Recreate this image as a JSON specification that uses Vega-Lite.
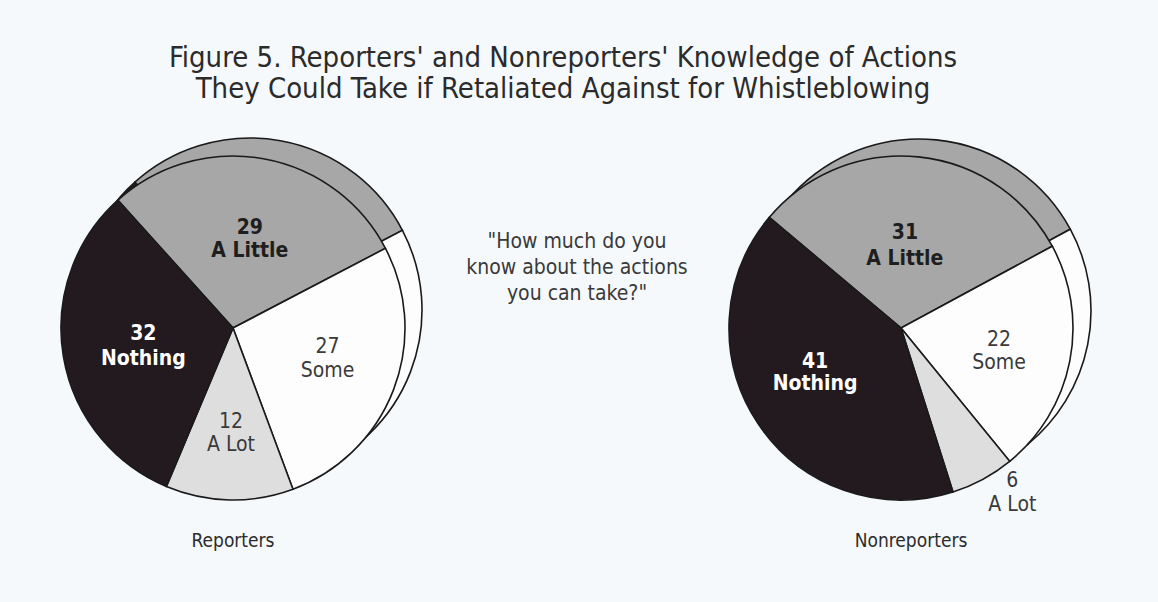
{
  "$schema": "https://vega.github.io/schema/vega-lite/v6.json",
  "background": "#f6f9fb",
  "padding": {"left": 0, "top": 44, "right": 44, "bottom": 51},
  "title": {
    "text": ["Figure 5.  Reporters' and Nonreporters' Knowledge of Actions", "They Could Take if Retaliated Against for Whistleblowing"],
    "font": "DejaVu Sans Condensed",
    "fontSize": 29,
    "fontWeight": "normal",
    "color": "#2b2b2b",
    "lineHeight": 31,
    "anchor": "middle",
    "dx": 6,
    "offset": 6
  },
  "datasets": {
    "rep": [
      {"category": "A Little", "value": 29, "o": 1, "label": "29\nA Little"},
      {"category": "Some", "value": 27, "o": 2, "label": "27\nSome"},
      {"category": "A Lot", "value": 12, "o": 3, "label": "12\nA Lot"},
      {"category": "Nothing", "value": 32, "o": 4, "label": "32\nNothing"}
    ],
    "non": [
      {"category": "A Little", "value": 31, "o": 1, "label": "31\nA Little"},
      {"category": "Some", "value": 22, "o": 2, "label": "22\nSome"},
      {"category": "A Lot", "value": 6, "o": 3, "label": "6\nA Lot"},
      {"category": "Nothing", "value": 41, "o": 4, "label": "41\nNothing"}
    ],
    "q": [
      {"q": "\"How much do you\nknow about the actions\nyou can take?\""}
    ]
  },
  "spacing": 0,
  "hconcat": [
    {
      "width": 466,
      "height": 406,
      "title": {"text": "Reporters", "orient": "bottom", "font": "DejaVu Sans Condensed", "fontSize": 19, "fontWeight": "normal", "color": "#2b2b2b", "offset": 1},
      "data": {"name": "rep"},
      "encoding": {
        "theta": {"field": "value", "type": "quantitative", "stack": true, "scale": {"range": [-0.733, 5.550]}},
        "order": {"field": "o", "type": "quantitative"}
      },
      "layer": [
        {
          "mark": {"type": "arc", "outerRadius": 172, "xOffset": 17, "yOffset": -18, "stroke": "#1a1a1a", "strokeWidth": 1.6},
          "encoding": {"fill": {"field": "category", "type": "nominal", "scale": {"domain": ["Nothing", "A Little", "Some", "A Lot"], "range": ["#231a1f", "#a7a7a7", "#fdfdfd", "#dedede"]}, "legend": null}}
        },
        {
          "mark": {"type": "arc", "outerRadius": 172, "stroke": "#1a1a1a", "strokeWidth": 1.6},
          "encoding": {"fill": {"field": "category", "type": "nominal", "legend": null}}
        },
        {
          "mark": {"type": "text", "radius": 95, "dx": 4, "dy": -10, "lineBreak": "\n", "font": "DejaVu Sans Condensed", "fontSize": 21, "fontWeight": "bold", "lineHeight": 25, "color": "#ffffff"},
          "encoding": {"text": {"condition": {"test": "datum.category === 'Nothing'", "field": "label"}, "value": ""}}
        },
        {
          "mark": {"type": "text", "radius": 95, "dy": -7, "lineBreak": "\n", "font": "DejaVu Sans Condensed", "fontSize": 21, "fontWeight": "bold", "lineHeight": 23, "color": "#1e1e1e"},
          "encoding": {"text": {"condition": {"test": "datum.category === 'A Little'", "field": "label"}, "value": ""}}
        },
        {
          "mark": {"type": "text", "radius": 97, "dx": 4, "dy": -16, "lineBreak": "\n", "font": "DejaVu Sans Condensed", "fontSize": 21, "fontWeight": "normal", "lineHeight": 24, "color": "#3a3a3a", "letterSpacing": 2},
          "encoding": {"text": {"condition": {"test": "datum.category === 'Some'", "field": "label"}, "value": ""}}
        },
        {
          "mark": {"type": "text", "radius": 97, "dy": -3, "lineBreak": "\n", "font": "DejaVu Sans Condensed", "fontSize": 21, "fontWeight": "normal", "lineHeight": 23, "color": "#3a3a3a", "letterSpacing": 2},
          "encoding": {"text": {"condition": {"test": "datum.category === 'A Lot'", "field": "label"}, "value": ""}}
        }
      ]
    },
    {
      "width": 222,
      "height": 234,
      "data": {"name": "q"},
      "mark": {"type": "text", "lineBreak": "\n", "font": "DejaVu Sans Condensed", "fontSize": 21, "lineHeight": 26, "color": "#3a3a3a", "letterSpacing": 2.2, "align": "center", "baseline": "middle"},
      "encoding": {"text": {"field": "q", "type": "nominal"}}
    },
    {
      "width": 426,
      "height": 406,
      "title": {"text": "Nonreporters", "orient": "bottom", "font": "DejaVu Sans Condensed", "fontSize": 19, "fontWeight": "normal", "color": "#2b2b2b", "offset": 1, "dx": 10},
      "data": {"name": "non"},
      "encoding": {
        "theta": {"field": "value", "type": "quantitative", "stack": true, "scale": {"range": [-0.873, 5.411]}},
        "order": {"field": "o", "type": "quantitative"}
      },
      "layer": [
        {
          "mark": {"type": "arc", "outerRadius": 172, "xOffset": 18, "yOffset": -17, "stroke": "#1a1a1a", "strokeWidth": 1.6},
          "encoding": {"fill": {"field": "category", "type": "nominal", "scale": {"domain": ["Nothing", "A Little", "Some", "A Lot"], "range": ["#231a1f", "#a7a7a7", "#fdfdfd", "#dedede"]}, "legend": null}}
        },
        {
          "mark": {"type": "arc", "outerRadius": 172, "stroke": "#1a1a1a", "strokeWidth": 1.6},
          "encoding": {"fill": {"field": "category", "type": "nominal", "legend": null}}
        },
        {
          "mark": {"type": "text", "radius": 95, "dx": -7, "dy": -19, "lineBreak": "\n", "font": "DejaVu Sans Condensed", "fontSize": 21, "fontWeight": "bold", "lineHeight": 22, "color": "#ffffff"},
          "encoding": {"text": {"condition": {"test": "datum.category === 'Nothing'", "field": "label"}, "value": ""}}
        },
        {
          "mark": {"type": "text", "radius": 88, "dx": -5, "dy": -7, "lineBreak": "\n", "font": "DejaVu Sans Condensed", "fontSize": 21, "fontWeight": "bold", "lineHeight": 26, "color": "#1e1e1e"},
          "encoding": {"text": {"condition": {"test": "datum.category === 'A Little'", "field": "label"}, "value": ""}}
        },
        {
          "mark": {"type": "text", "radius": 100, "dy": -7, "lineBreak": "\n", "font": "DejaVu Sans Condensed", "fontSize": 21, "fontWeight": "normal", "lineHeight": 23, "color": "#3a3a3a", "letterSpacing": 2},
          "encoding": {"text": {"condition": {"test": "datum.category === 'Some'", "field": "label"}, "value": ""}}
        },
        {
          "mark": {"type": "text", "radius": 198, "thetaOffset": -0.12, "dx": -3, "dy": -9, "lineBreak": "\n", "font": "DejaVu Sans Condensed", "fontSize": 21, "fontWeight": "normal", "lineHeight": 24, "color": "#3a3a3a", "letterSpacing": 2},
          "encoding": {"text": {"condition": {"test": "datum.category === 'A Lot'", "field": "label"}, "value": ""}}
        }
      ]
    }
  ],
  "config": {"view": {"stroke": null}}
}
